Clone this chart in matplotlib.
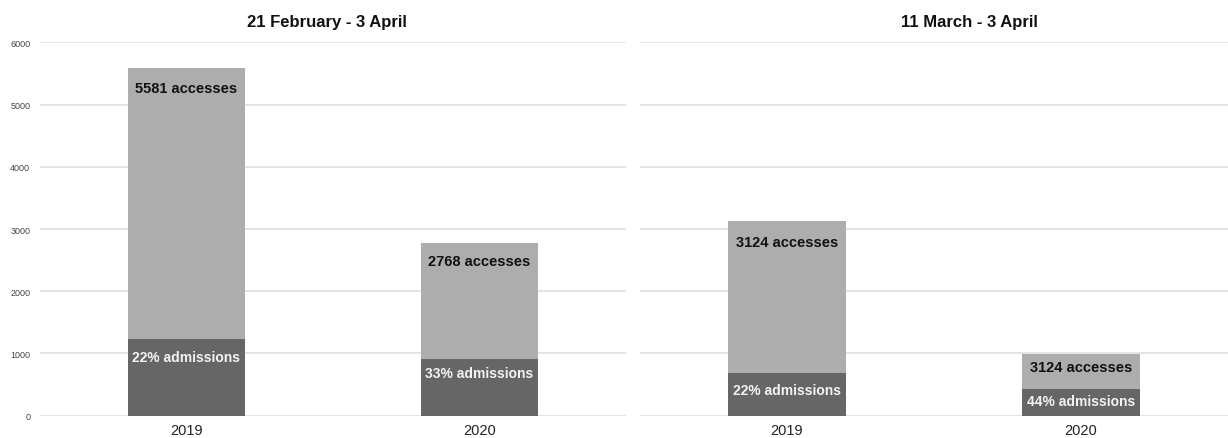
import matplotlib.pyplot as plt
import numpy as np

plt.rcParams["font.family"] = ["Liberation Sans", "DejaVu Sans"]

years = ["2019", "2020"]
titles = ["21 February - 3 April", "11 March - 3 April"]
accesses = [[5581, 2768], [3124, 990]]
admissions = [[1228, 913], [687, 436]]
access_labels = [["5581 accesses", "2768 accesses"], ["3124 accesses", "3124 accesses"]]
admit_labels = [["22% admissions", "33% admissions"], ["22% admissions", "44% admissions"]]
y_ticks = [0, 1000, 2000, 3000, 4000, 5000, 6000]

light = "#adadad"
dark = "#666666"
grid = "#e2e2e2"

# label offsets below segment tops (points), per bar
acc_pad = [[14, 12.5], [15, 9]]
adm_pad = [[13, 10.5], [12.5, 9]]

fig = plt.figure(figsize=(12.28, 4.39), dpi=100)
fig.set_facecolor("white")
axes = [
    fig.add_axes([40 / 1228, 22.3 / 439, 586 / 1228, 373.4 / 439]),
    fig.add_axes([640 / 1228, 22.3 / 439, 588 / 1228, 373.4 / 439]),
]
title_x = [0.49, 0.56]

x = np.arange(len(years))
for i, ax in enumerate(axes):
    ax.bar(x, accesses[i], width=0.4, color=light, zorder=2)
    ax.bar(x, admissions[i], width=0.4, color=dark, zorder=3)
    ax.set_xlim(-0.5, 1.5)
    ax.set_ylim(0, 6000)
    ax.set_yticks(y_ticks)
    ax.yaxis.grid(True, color=grid, linewidth=1.3, zorder=0)
    ax.set_axisbelow(True)
    for s in ax.spines.values():
        s.set_visible(False)
    ax.set_xticks(x)
    ax.set_xticklabels(years, fontsize=10.5, color="#222222")
    ax.tick_params(axis="x", length=0, pad=5)
    ax.tick_params(axis="y", length=0, pad=7, labelsize=6.5, labelcolor="#444444")
    if i == 1:
        ax.set_yticklabels([])
    ax.text(title_x[i], 1.057, titles[i], transform=ax.transAxes, ha="center",
            va="center", fontsize=12, fontweight="bold", color="#111111")
    for j in range(len(years)):
        ax.annotate(access_labels[i][j], (x[j], accesses[i][j]),
                    xytext=(0, -acc_pad[i][j]), textcoords="offset points",
                    ha="center", va="center", fontsize=10.5, fontweight="bold",
                    color="#111111", zorder=5)
        ax.annotate(admit_labels[i][j], (x[j], admissions[i][j]),
                    xytext=(0, -adm_pad[i][j]), textcoords="offset points",
                    ha="center", va="center", fontsize=10, fontweight="bold",
                    color="#f2f2f2", zorder=5)

fig.savefig("out.png", dpi=100)
